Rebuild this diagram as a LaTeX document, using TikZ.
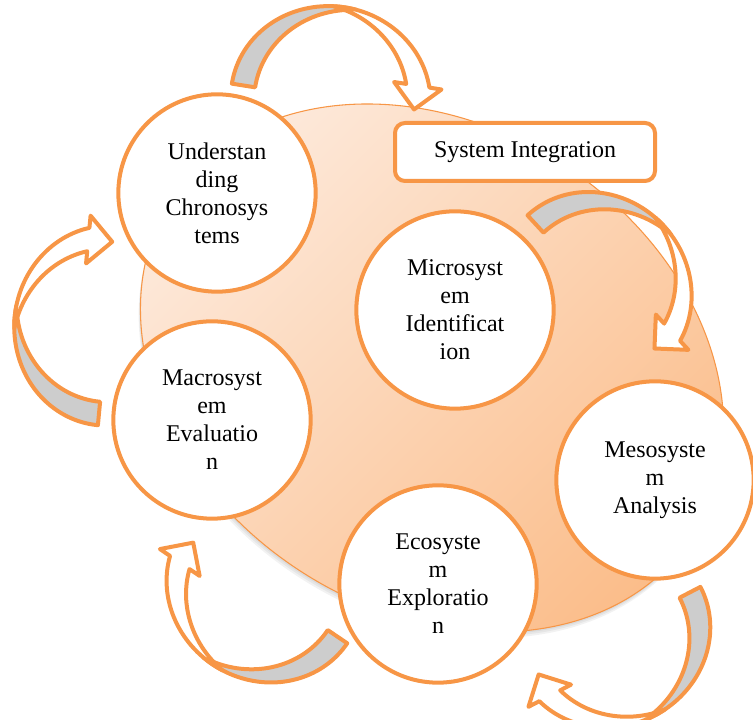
\documentclass[tikz,border=0pt]{standalone}
\usepackage{fontspec}
\setmainfont{Liberation Serif}
\definecolor{sysorange}{HTML}{F79646}
\definecolor{sysgrey}{HTML}{CDCDCD}
\definecolor{peachlight}{HTML}{FDEBDE}
\definecolor{peachdark}{HTML}{FBBD8A}

\begin{document}
\begin{tikzpicture}[x=0.75pt,y=0.75pt,
    stage/.style={circle,draw=sysorange,line width=3pt,fill=white,minimum size=148pt,inner sep=0pt,align=center,font=\fontsize{18}{21}\selectfont},
    ribbon/.style={draw=sysorange,line width=3pt,line join=round},
    cycarrow/.pic={
      \path[ribbon,fill=sysgrey] (-11.75,0) arc[start angle=180,end angle=83.25,x radius=100,y radius=93]
        arc[start angle=96.75,end angle=180,x radius=100,y radius=93] -- cycle;
      \path[ribbon,fill=white] (76.5,92.36) arc[start angle=96.75,end angle=16.88,x radius=100,y radius=93]
        -- (196.19,27) -- (172.19,3) -- (148.19,27) -- (160.44,27)
        arc[start angle=16.88,end angle=83.25,x radius=100,y radius=93] -- cycle;
    }]
  \useasboundingbox (0,0) rectangle (753,720);

  \foreach \s in {2,4,6}
    \fill[black,opacity=.05,shift={(432-0.3*\s,352-\s)},rotate=-33] (0,0) ellipse[x radius=310,y radius=242];
  \path[draw=sysorange,line width=0.8pt,top color=peachlight,bottom color=peachdark,shading angle=45,shift={(432,352)},rotate=-33]
    (0,0) ellipse[x radius=310,y radius=242];

  \pic[rotate=-9] (arrtop) at (243.5,634.5) {cycarrow};
  \pic[rotate=-47.3] (arrright) at (535.5,496) {cycarrow};
  \pic[rotate=-152.5] (arrlow) at (690,127.7) {cycarrow};
  \pic[rotate=145.9] (arrbottom) at (337.5,83.3) {cycarrow};
  \pic[rotate=84.6] (arrleft) at (99,306.5) {cycarrow};

  \node[draw=sysorange,line width=3pt,fill=white,rounded corners=7.5pt,minimum width=195pt,minimum height=43.5pt,
    font=\fontsize{18}{21}\selectfont] (integ) at (525,568) {System Integration};

  \node[stage] (chrono) at (217,527) {Understan\\ding\\Chronosys\\tems};
  \node[stage] (micro) at (455,410) {Microsyst\\em\\Identificat\\ion};
  \node[stage] (macro) at (212,300) {Macrosyst\\em\\Evaluatio\\n};
  \node[stage] (meso) at (655,240) {Mesosyste\\m\\Analysis};
  \node[stage] (eco) at (438,136) {Ecosyste\\m\\Exploratio\\n};
\end{tikzpicture}
\end{document}
